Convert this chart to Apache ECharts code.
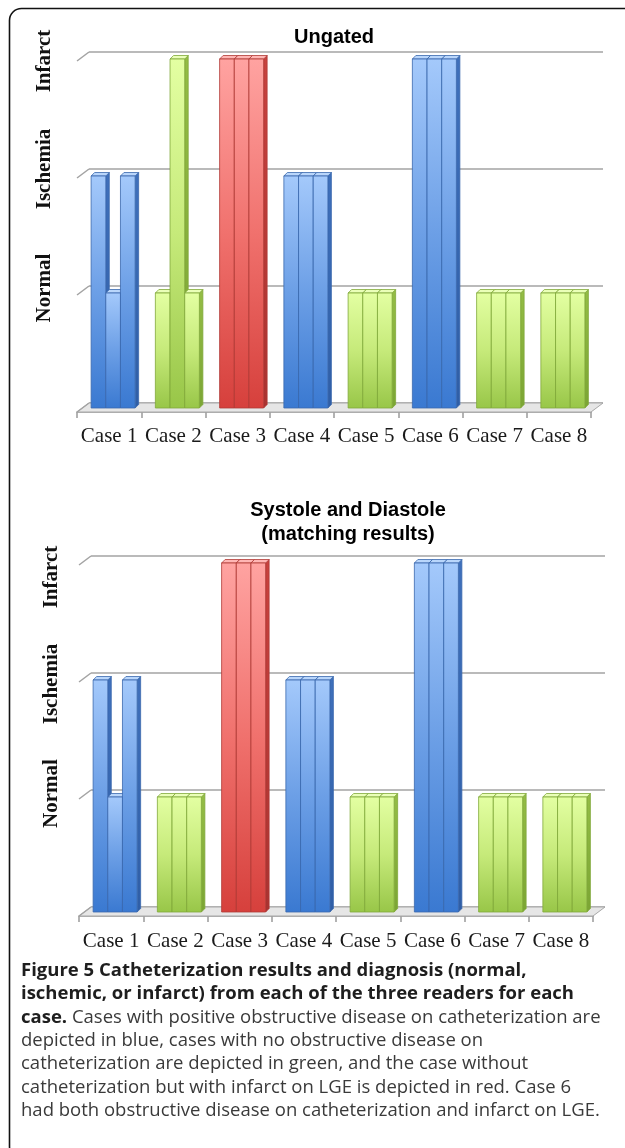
<!DOCTYPE html>
<html>
<head>
<meta charset="utf-8">
<script src="https://cdn.jsdelivr.net/npm/echarts@6/dist/echarts.min.js"></script>
<style>
  html, body { margin: 0; padding: 0; background: #fff; }
  #chart { width: 625px; height: 1148px; }
</style>
</head>
<body>
<div id="chart"></div>
<script>
// Cases and the diagnosis scale (0 = floor, 1 = Normal, 2 = Ischemia, 3 = Infarct)
const categories = ['Case 1', 'Case 2', 'Case 3', 'Case 4', 'Case 5', 'Case 6', 'Case 7', 'Case 8'];
const levelLabels = ['', 'Normal', 'Ischemia', 'Infarct'];
const levelTicks = [0, 1, 2, 3];

// Catheterization group of each case: positive disease, no disease, no catheterization
const caseGroups = ['positive', 'negative', 'uncath', 'positive', 'negative', 'positive', 'negative', 'negative'];

// Ungated reads, one array per reader
const ungatedReader1 = [2, 1, 3, 2, 1, 3, 1, 1];
const ungatedReader2 = [1, 3, 3, 2, 1, 3, 1, 1];
const ungatedReader3 = [2, 1, 3, 2, 1, 3, 1, 1];

// Systole and diastole reads (matching results), one array per reader
const matchedReader1 = [2, 1, 3, 2, 1, 3, 1, 1];
const matchedReader2 = [1, 1, 3, 2, 1, 3, 1, 1];
const matchedReader3 = [2, 1, 3, 2, 1, 3, 1, 1];

const palette = {
  positive: { light: '#a4c9fb', mid: '#6c9fe6', dark: '#3a79d1', side: '#3f70bb', sideDark: '#2f5ea6', top: '#b9d6fb', edge: '#3a68ad' },
  negative: { light: '#e3ffa2', mid: '#c6ea7a', dark: '#98c648', side: '#94bd45', sideDark: '#7ba534', top: '#eaffb8', edge: '#80a83a' },
  uncath:   { light: '#ffa3a1', mid: '#f0716d', dark: '#d6403c', side: '#c8423e', sideDark: '#a93330', top: '#ffb6b4', edge: '#b03a36' }
};

const GRID_COLOR = '#a3a3a3';
const DEPTH_X = 12, DEPTH_Y = 9;   // floor depth (back plane -> front edge)
const BAR_SHIFT_X = -8;            // bars sit toward the front of the floor
const BAR_TOP_DROP = 7, BAR_BASE_DROP = 5;
const BAR_DEPTH = 3.5;

function barData(r1, r2, r3) {
  const out = [];
  [r1, r2, r3].forEach((reader, r) => {
    reader.forEach((v, i) => out.push([i, v, r]));
  });
  // draw case by case, readers left to right
  out.sort((a, b) => a[0] - b[0] || a[2] - b[2]);
  return out;
}

function renderBar(params, api) {
  const ci = api.value(0), v = api.value(1), r = api.value(2);
  const topPt = api.coord([ci, v]);
  const basePt = api.coord([ci, 0]);
  const band = api.size([1, 0])[0];
  const groupW = band * 0.685;
  const w = groupW / 3;
  const x = topPt[0] - groupW / 2 + r * w + BAR_SHIFT_X;
  const yTop = topPt[1] + BAR_TOP_DROP;
  const yBot = basePt[1] + BAR_BASE_DROP;
  const d = BAR_DEPTH;
  const p = palette[caseGroups[ci]];
  const frontFill = new echarts.graphic.LinearGradient(0, 0, 0, 1, [
    { offset: 0, color: p.light }, { offset: 0.5, color: p.mid }, { offset: 1, color: p.dark }
  ]);
  const sideFill = new echarts.graphic.LinearGradient(0, 0, 0, 1, [
    { offset: 0, color: p.side }, { offset: 1, color: p.sideDark }
  ]);
  return {
    type: 'group',
    children: [
      { type: 'polygon', shape: { points: [[x + w, yTop], [x + w + d, yTop - d], [x + w + d, yBot - d], [x + w, yBot]] },
        style: { fill: sideFill, stroke: p.edge, lineWidth: 0.8 } },
      { type: 'polygon', shape: { points: [[x, yTop], [x + d, yTop - d], [x + w + d, yTop - d], [x + w, yTop]] },
        style: { fill: p.top, stroke: p.edge, lineWidth: 0.8 } },
      { type: 'rect', shape: { x: x, y: yTop, width: w, height: yBot - yTop },
        style: { fill: frontFill, stroke: p.edge, lineWidth: 0.8 } }
    ]
  };
}

// Floor slab and the slanted grid stubs on the left wall
function renderFrame(params, api) {
  const v = api.value(1);
  const band = api.size([1, 0])[0];
  const left = api.coord([0, v])[0] - band / 2;
  const right = api.coord([categories.length - 1, v])[0] + band / 2;
  const y = api.coord([0, v])[1];
  const children = [];
  if (v === 0) {
    children.push({ type: 'polygon',
      shape: { points: [[left, y], [right, y], [right - DEPTH_X, y + DEPTH_Y], [left - DEPTH_X, y + DEPTH_Y]] },
      style: { fill: '#e6e6e6', stroke: '#a8a8a8', lineWidth: 1 } });
  }
  children.push({ type: 'line', shape: { x1: left, y1: y, x2: left - DEPTH_X, y2: y + DEPTH_Y },
    style: { stroke: GRID_COLOR, lineWidth: 1.5 } });
  return { type: 'group', children };
}

function levelRich(shifts) {
  const rich = {};
  levelTicks.forEach(t => {
    rich['k' + t] = {
      fontFamily: 'Liberation Serif', fontWeight: 'bold', fontSize: 21, color: '#111',
      padding: [0, 2 * (shifts[t] || 0), 0, 0]
    };
  });
  return rich;
}

function backAxes(gridIndex, margin, shifts) {
  return {
    x: { type: 'category', gridIndex, data: categories, boundaryGap: true,
         axisLine: { show: false }, axisTick: { show: false }, axisLabel: { show: false }, splitLine: { show: false } },
    y: { type: 'value', gridIndex, min: 0, max: 3, interval: 1,
         axisLine: { show: false }, axisTick: { show: false },
         splitLine: { show: true, lineStyle: { color: GRID_COLOR, width: 1.5 } },
         axisLabel: { rotate: 90, margin,
           formatter: v => levelLabels[v] ? '{k' + v + '|' + levelLabels[v] + '}' : '',
           rich: levelRich(shifts) } }
  };
}

function frontAxes(gridIndex, margin) {
  return {
    x: { type: 'category', gridIndex, data: categories, boundaryGap: true,
         axisLine: { show: true, lineStyle: { color: '#9a9a9a', width: 1.5 } },
         axisTick: { show: true, length: 6, lineStyle: { color: '#9a9a9a', width: 1.5 } },
         axisLabel: { interval: 0, margin, fontFamily: 'Liberation Serif', fontSize: 21, color: '#1a1a1a' },
         splitLine: { show: false } },
    y: { type: 'value', gridIndex, min: 0, max: 3, interval: 1, show: false }
  };
}

const b1 = backAxes(0, 34, { 1: 2, 2: 0, 3: 9 });
const f1 = frontAxes(1, 14);
const b2 = backAxes(2, 29, { 1: 3.5, 2: 11, 3: 21 });
const f2 = frontAxes(3, 15);

const captionLines = [
  { y: 971, bold: true, text: 'Figure 5 Catheterization results and diagnosis (normal,' },
  { y: 994, bold: true, text: 'ischemic, or infarct) from each of the three readers for each' },
  { y: 1018, mixed: true, boldPart: 'case.', text: ' Cases with positive obstructive disease on catheterization are' },
  { y: 1041, text: 'depicted in blue, cases with no obstructive disease on' },
  { y: 1064, text: 'catheterization are depicted in green, and the case without' },
  { y: 1088, text: 'catheterization but with infarct on LGE is depicted in red. Case 6' },
  { y: 1111, text: 'had both obstructive disease on catheterization and infarct on LGE.' }
];

const CAP_FONT = 'Open Sans';
const CAP_SIZE = 18.5;
const CAP_BOLD = '#1e1e1e', CAP_TEXT = '#3a3a3a';
const captionGraphics = captionLines.map(l => {
  if (l.mixed) {
    return { type: 'text', x: 21, y: l.y, style: {
      text: '{b|' + l.boldPart + '}{n|' + l.text + '}', verticalAlign: 'middle',
      rich: {
        b: { fontFamily: CAP_FONT, fontWeight: 'bold', fontSize: CAP_SIZE, fill: CAP_BOLD },
        n: { fontFamily: CAP_FONT, fontSize: CAP_SIZE, fill: CAP_TEXT }
      } } };
  }
  return { type: 'text', x: 21, y: l.y, style: {
    text: l.text, verticalAlign: 'middle', fontFamily: CAP_FONT, fontSize: CAP_SIZE,
    fontWeight: l.bold ? 'bold' : 'normal', fill: l.bold ? CAP_BOLD : CAP_TEXT } };
});

const option = {
  animation: false,
  backgroundColor: '#fff',
  grid: [
    { left: 89, top: 52, width: 514, height: 351 },
    { left: 77, top: 61, width: 514, height: 351 },
    { left: 91, top: 556, width: 514, height: 351 },
    { left: 79, top: 565, width: 514, height: 351 }
  ],
  xAxis: [b1.x, f1.x, b2.x, f2.x],
  yAxis: [b1.y, f1.y, b2.y, f2.y],
  graphic: [
    { type: 'rect', shape: { x: 9.5, y: 8.5, width: 1000, height: 1150, r: 12 },
      style: { fill: 'none', stroke: '#111', lineWidth: 1.6 }, z: 0 },
    { type: 'text', x: 334, y: 37, style: { text: 'Ungated', align: 'center', verticalAlign: 'middle',
      fontFamily: 'Liberation Sans', fontWeight: 'bold', fontSize: 20, fill: '#000' } },
    { type: 'text', x: 348, y: 522, style: { text: 'Systole and Diastole\n(matching results)', align: 'center', verticalAlign: 'middle',
      lineHeight: 24, fontFamily: 'Liberation Sans', fontWeight: 'bold', fontSize: 20, fill: '#000' } }
  ].concat(captionGraphics),
  series: [
    { type: 'custom', xAxisIndex: 0, yAxisIndex: 0, renderItem: renderFrame, clip: false,
      data: levelTicks.map(t => [0, t]), silent: true },
    { type: 'custom', name: 'Ungated', xAxisIndex: 0, yAxisIndex: 0, renderItem: renderBar, clip: false,
      data: barData(ungatedReader1, ungatedReader2, ungatedReader3) },
    { type: 'custom', xAxisIndex: 2, yAxisIndex: 2, renderItem: renderFrame, clip: false,
      data: levelTicks.map(t => [0, t]), silent: true },
    { type: 'custom', name: 'Systole and Diastole', xAxisIndex: 2, yAxisIndex: 2, renderItem: renderBar, clip: false,
      data: barData(matchedReader1, matchedReader2, matchedReader3) }
  ]
};

const chart = echarts.init(document.getElementById('chart'), null, { renderer: 'canvas' });
chart.setOption(option);
</script>
</body>
</html>
